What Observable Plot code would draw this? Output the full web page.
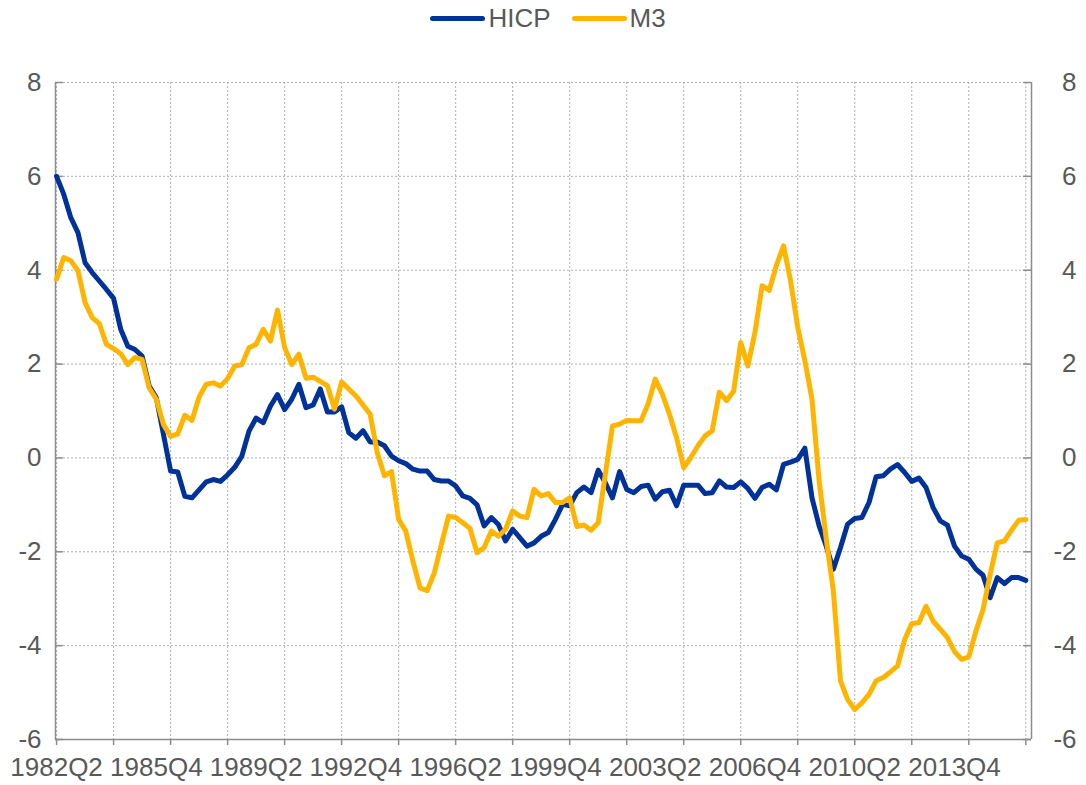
<!DOCTYPE html>
<html>
<head>
<meta charset="utf-8">
<script src="https://cdn.jsdelivr.net/npm/d3@7"></script>
<script src="https://cdn.jsdelivr.net/npm/@observablehq/plot@0.6"></script>
<style>
  html, body { margin: 0; padding: 0; background: #fff; }
  body { width: 1086px; height: 785px; overflow: hidden; font-family: "Liberation Sans", Arial, sans-serif; }
  #legend { height: 36px; display: flex; justify-content: center; align-items: center; font-size: 26px; color: #595959; padding-left: 10px; box-sizing: border-box; }
  .item { display: flex; align-items: center; }
  .sw { width: 55px; height: 5px; border-radius: 3px; margin-right: 3px; }
  .gap { width: 21px; }
</style>
</head>
<body>
<div id="legend"></div>
<div id="chart"></div>
<script>
// ---- data (quarterly, starting 1982Q2) ----
const startYear = 1982;
const startQuarter = 2;
const seriesNames = ["HICP", "M3"];
const seriesColors = ["#003299", "#FFB400"];
const hicp = [6.00,5.62,5.12,4.80,4.16,3.95,3.77,3.59,3.40,2.74,2.38,2.31,2.17,1.53,1.28,0.50,-0.28,-0.30,-0.82,-0.85,-0.68,-0.51,-0.46,-0.50,-0.36,-0.20,0.04,0.57,0.85,0.75,1.10,1.35,1.03,1.25,1.57,
  1.07,1.13,1.47,0.98,0.98,1.09,0.54,0.42,0.58,0.34,0.34,0.26,0.04,-0.06,-0.12,-0.24,-0.28,-0.28,-0.46,-0.49,-0.49,-0.60,-0.81,-0.86,-1.00,-1.45,-1.27,-1.42,-1.77,-1.52,-1.70,-1.88,-1.81,
  -1.67,-1.59,-1.31,-0.99,-1.02,-0.74,-0.62,-0.74,-0.26,-0.53,-0.85,-0.29,-0.67,-0.74,-0.61,-0.58,-0.88,-0.72,-0.69,-1.02,-0.58,-0.58,-0.58,-0.76,-0.74,-0.49,-0.62,-0.63,-0.51,-0.65,-0.86,-0.63,-0.56,
  -0.68,-0.14,-0.09,-0.03,0.21,-0.85,-1.45,-1.88,-2.37,-1.91,-1.41,-1.29,-1.27,-0.95,-0.40,-0.38,-0.24,-0.14,-0.31,-0.50,-0.43,-0.63,-1.06,-1.34,-1.43,-1.88,-2.09,-2.16,-2.37,-2.50,-2.98,-2.55,-2.68,-2.55,-2.55,-2.61];
const m3 = [3.81,4.27,4.20,3.99,3.31,2.99,2.86,2.42,2.33,2.22,1.99,2.14,2.10,1.49,1.25,0.71,0.46,0.51,0.91,0.80,1.30,1.57,1.60,1.53,1.69,1.96,1.99,2.35,2.42,2.74,2.49,3.15,2.35,1.99,2.21,
  1.70,1.72,1.63,1.54,1.04,1.62,1.47,1.32,1.13,0.93,0.11,-0.38,-0.29,-1.31,-1.56,-2.20,-2.77,-2.83,-2.45,-1.84,-1.24,-1.27,-1.38,-1.50,-2.02,-1.91,-1.56,-1.67,-1.52,-1.13,-1.24,-1.27,-0.67,
  -0.81,-0.76,-0.95,-0.95,-0.85,-1.46,-1.43,-1.54,-1.38,-0.35,0.68,0.72,0.80,0.79,0.79,1.15,1.68,1.36,0.93,0.43,-0.21,0.01,0.26,0.47,0.58,1.40,1.22,1.42,2.46,1.96,2.68,3.67,3.57,
  4.10,4.52,3.77,2.78,2.07,1.25,-0.49,-1.73,-2.84,-4.75,-5.15,-5.36,-5.22,-5.04,-4.75,-4.68,-4.56,-4.43,-3.87,-3.53,-3.51,-3.16,-3.48,-3.65,-3.83,-4.13,-4.29,-4.24,-3.69,-3.23,-2.48,-1.81,-1.77,-1.54,-1.33,-1.31];
const tickLabels = ["1982Q2","1985Q4","1989Q2","1992Q4","1996Q2","1999Q4","2003Q2","2006Q4","2010Q2","2013Q4"];
const yTicks = [-6,-4,-2,0,2,4,6,8];

// ---- derived ----
const quarters = hicp.map((_, i) => {
  const q = startQuarter - 1 + i;
  return `${startYear + Math.floor(q / 4)}Q${(q % 4) + 1}`;
});
const labelIdx = tickLabels.map(l => quarters.indexOf(l));
const gridIdx = d3.range(0, quarters.length, 8);
const rows = [
  ...hicp.map((v, i) => ({i, v, s: "HICP"})),
  ...m3.map((v, i) => ({i, v, s: "M3"}))
];
const x0 = -0.15, x1 = quarters.length - 1 + 0.8;
const textColor = "#595959";
const axisColor = "#8c8c8c";
const gridStyle = {stroke: "#b0b0b0", strokeOpacity: 1, strokeWidth: 1, strokeDasharray: "2,2"};

// legend
const legend = document.getElementById("legend");
seriesNames.forEach((n, k) => {
  if (k > 0) { const g = document.createElement("div"); g.className = "gap"; legend.appendChild(g); }
  const it = document.createElement("div"); it.className = "item";
  const sw = document.createElement("div"); sw.className = "sw"; sw.style.background = seriesColors[k];
  const tx = document.createElement("span"); tx.textContent = n;
  it.appendChild(sw); it.appendChild(tx); legend.appendChild(it);
});

const chart = Plot.plot({
  width: 1086,
  height: 749,
  marginTop: 46,
  marginBottom: 46,
  marginLeft: 55,
  marginRight: 55,
  style: {fontFamily: "'Liberation Sans', Arial, sans-serif", fontSize: "26px", color: textColor, background: "#fff", overflow: "visible"},
  x: {domain: [x0, x1], axis: null},
  y: {domain: [-6, 8], axis: null},
  color: {domain: seriesNames, range: seriesColors},
  marks: [
    Plot.gridY(yTicks, gridStyle),
    Plot.gridX(gridIdx, gridStyle),
    Plot.ruleX([x0, x1], {stroke: axisColor, strokeWidth: 1.5}),
    Plot.ruleY([-6], {stroke: axisColor, strokeWidth: 1.5}),
    Plot.ruleY(yTicks, {x1: x0, x2: x0 + 1.1, stroke: axisColor, strokeWidth: 1.5}),
    Plot.ruleY(yTicks, {x1: x1 - 1.1, x2: x1, stroke: axisColor, strokeWidth: 1.5}),
    Plot.axisX({ticks: gridIdx, tickSize: 6, tickFormat: () => "", label: null, stroke: axisColor, strokeWidth: 1.5}),
    Plot.axisX({ticks: labelIdx, tickSize: 0, tickPadding: 18, tickFormat: i => quarters[i], label: null, fill: textColor}),
    Plot.axisY({anchor: "left", ticks: yTicks, tickSize: 0, tickPadding: 14, tickFormat: d => d, label: null, fill: textColor}),
    Plot.axisY({anchor: "right", ticks: yTicks, tickSize: 0, tickPadding: 45, textAnchor: "end", tickFormat: d => d, label: null, fill: textColor}),
    Plot.line(rows, {x: "i", y: "v", z: "s", stroke: "s", strokeWidth: 5, strokeLinejoin: "round", strokeLinecap: "round"})
  ]
});
document.getElementById("chart").appendChild(chart);
</script>
</body>
</html>
